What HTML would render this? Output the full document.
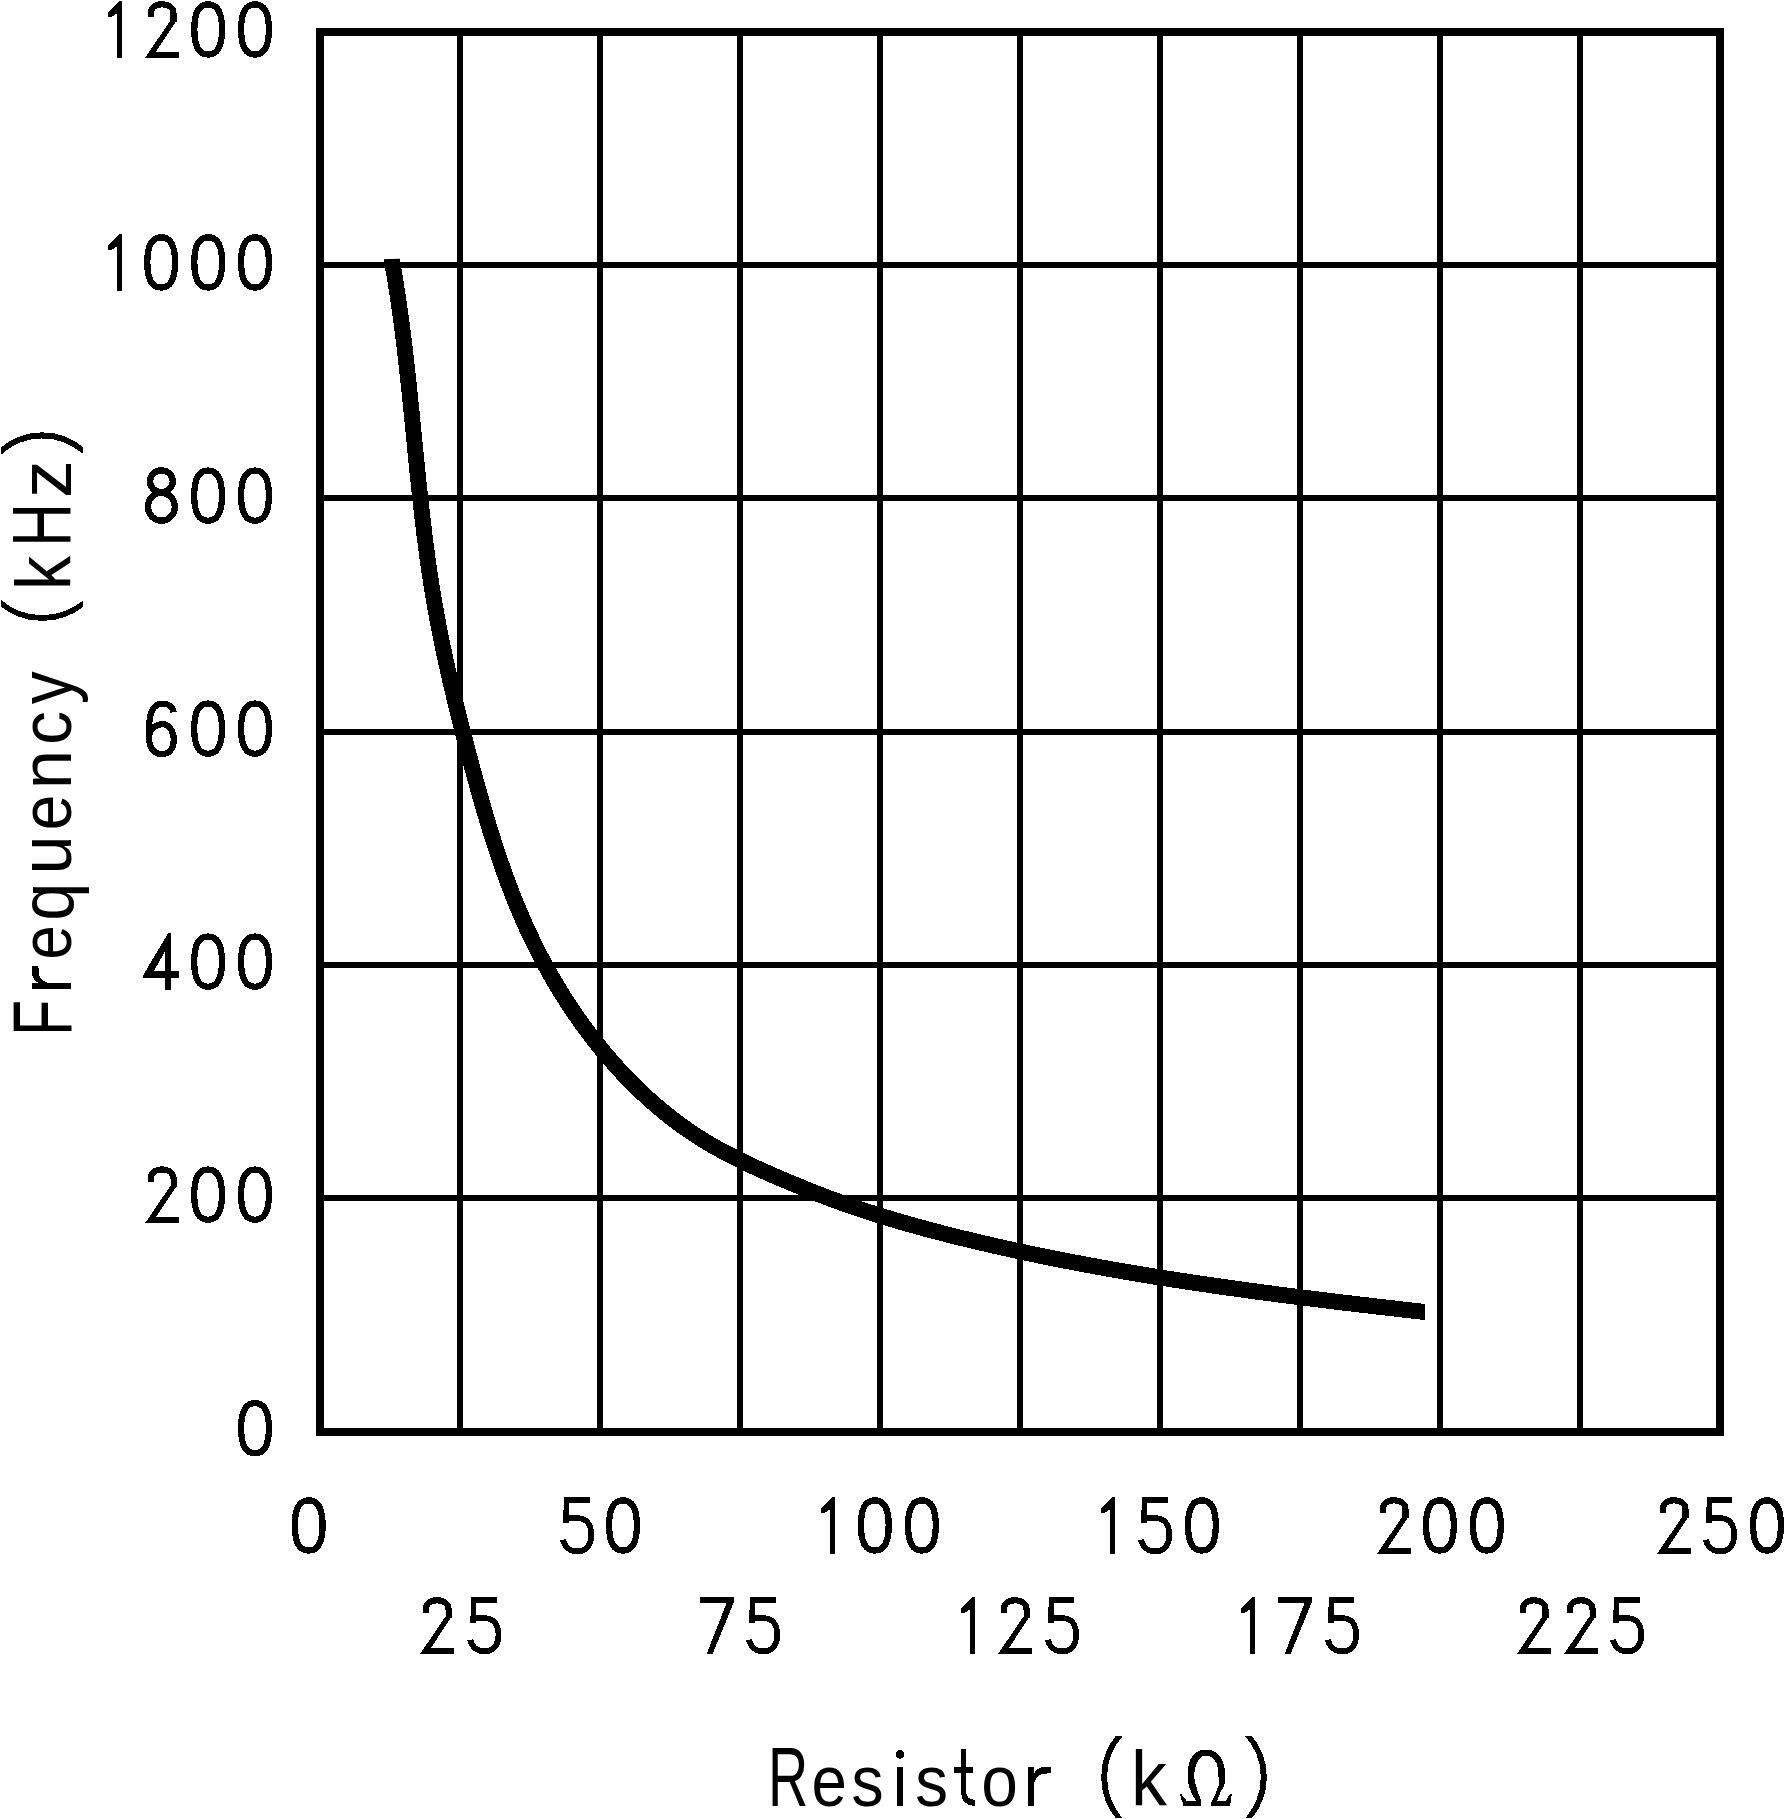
<!DOCTYPE html>
<html><head><meta charset="utf-8"><title>Frequency vs Resistor</title>
<style>
html,body{margin:0;padding:0;background:#fff;width:1785px;height:1819px;overflow:hidden}
svg{display:block}
text{font-family:"Liberation Sans",sans-serif;font-size:100px;fill:#000}
</style></head><body>
<svg width="1785" height="1819" viewBox="0 0 1785 1819">
<rect x="0" y="0" width="1785" height="1819" fill="#fff"/>
<g fill="#000" shape-rendering="crispEdges">
<rect x="316" y="28" width="1408" height="8"/>
<rect x="316" y="1428" width="1408" height="8"/>
<rect x="316" y="28" width="8" height="1408"/>
<rect x="1716" y="28" width="8" height="1408"/>
<rect x="457" y="36" width="6" height="1392"/>
<rect x="597" y="36" width="6" height="1392"/>
<rect x="737" y="36" width="6" height="1392"/>
<rect x="877" y="36" width="6" height="1392"/>
<rect x="1017" y="36" width="6" height="1392"/>
<rect x="1157" y="36" width="6" height="1392"/>
<rect x="1297" y="36" width="6" height="1392"/>
<rect x="1437" y="36" width="6" height="1392"/>
<rect x="1577" y="36" width="6" height="1392"/>
<rect x="324" y="262" width="1392" height="6"/>
<rect x="324" y="495" width="1392" height="6"/>
<rect x="324" y="729" width="1392" height="6"/>
<rect x="324" y="962" width="1392" height="6"/>
<rect x="324" y="1195" width="1392" height="6"/>
</g>
<clipPath id="cc"><polygon points="300,261.2 410,258.6 1425,258.6 1425,1500 300,1500"/></clipPath>
<path d="M390.69 253.98 L391.76 259.89 L392.46 263.82 L393.15 267.75 L393.83 271.69 L394.50 275.63 L395.15 279.57 L395.78 283.52 L396.41 287.47 L397.02 291.42 L397.63 295.37 L398.22 299.32 L398.80 303.28 L399.37 307.24 L399.92 311.20 L400.47 315.17 L401.01 319.13 L401.54 323.10 L402.06 327.07 L402.57 331.04 L403.07 335.01 L403.56 338.99 L404.05 342.96 L404.53 346.94 L405.00 350.92 L405.46 354.90 L405.92 358.88 L406.37 362.86 L406.81 366.85 L407.25 370.83 L407.69 374.82 L408.12 378.81 L408.54 382.79 L408.96 386.78 L409.38 390.77 L409.79 394.76 L410.20 398.76 L410.60 402.75 L411.01 406.74 L411.41 410.73 L411.81 414.73 L412.20 418.72 L412.60 422.72 L412.99 426.71 L413.39 430.71 L413.78 434.70 L414.17 438.70 L414.57 442.69 L414.96 446.69 L415.36 450.68 L415.75 454.68 L416.15 458.67 L416.55 462.67 L416.95 466.66 L417.35 470.65 L417.76 474.65 L418.17 478.64 L418.59 482.63 L419.00 486.62 L419.42 490.61 L419.85 494.60 L420.28 498.59 L420.72 502.58 L421.16 506.56 L421.61 510.55 L422.06 514.53 L422.52 518.52 L422.99 522.50 L423.46 526.48 L423.94 530.46 L424.43 534.44 L424.93 538.41 L425.43 542.39 L425.95 546.36 L426.47 550.33 L427.00 554.30 L427.54 558.27 L428.09 562.23 L428.66 566.20 L429.23 570.16 L429.81 574.12 L430.41 578.08 L431.01 582.03 L431.63 585.99 L432.26 589.94 L432.91 593.88 L433.56 597.83 L434.23 601.77 L434.92 605.71 L435.61 609.65 L436.32 613.59 L437.05 617.52 L437.78 621.45 L438.53 625.38 L439.29 629.31 L440.06 633.23 L440.84 637.15 L441.63 641.07 L442.44 644.99 L443.25 648.90 L444.08 652.82 L444.91 656.73 L445.76 660.64 L446.62 664.55 L447.49 668.45 L448.36 672.36 L449.25 676.26 L450.14 680.16 L451.05 684.06 L451.96 687.96 L452.88 691.86 L453.81 695.75 L454.75 699.64 L455.69 703.54 L456.65 707.43 L457.61 711.32 L458.58 715.20 L459.55 719.09 L460.53 722.98 L461.52 726.86 L462.51 730.75 L463.51 734.63 L464.52 738.51 L465.53 742.39 L466.55 746.27 L467.57 750.15 L468.60 754.03 L469.63 757.91 L470.67 761.78 L471.71 765.66 L472.76 769.54 L473.81 773.41 L474.87 777.28 L475.93 781.16 L477.00 785.03 L478.07 788.90 L479.16 792.76 L480.25 796.63 L481.35 800.49 L482.46 804.34 L483.58 808.20 L484.71 812.05 L485.84 815.90 L486.99 819.75 L488.15 823.59 L489.32 827.42 L490.51 831.26 L491.70 835.08 L492.91 838.91 L494.13 842.73 L495.37 846.54 L496.62 850.35 L497.88 854.15 L499.16 857.94 L500.46 861.73 L501.77 865.52 L503.10 869.29 L504.44 873.06 L505.80 876.83 L507.18 880.58 L508.58 884.33 L510.00 888.07 L511.43 891.80 L512.89 895.53 L514.36 899.24 L515.86 902.95 L517.37 906.65 L518.91 910.34 L520.47 914.02 L522.05 917.69 L523.66 921.35 L525.29 925.00 L526.94 928.65 L528.61 932.28 L530.31 935.90 L532.04 939.51 L533.79 943.10 L535.56 946.69 L537.36 950.27 L539.18 953.83 L541.03 957.38 L542.90 960.92 L544.79 964.45 L546.71 967.96 L548.66 971.46 L550.63 974.95 L552.62 978.42 L554.64 981.88 L556.68 985.32 L558.75 988.75 L560.84 992.17 L562.96 995.57 L565.10 998.95 L567.27 1002.32 L569.46 1005.67 L571.68 1009.01 L573.92 1012.33 L576.19 1015.63 L578.48 1018.92 L580.79 1022.19 L583.14 1025.44 L585.50 1028.68 L587.89 1031.89 L590.31 1035.09 L592.75 1038.27 L595.22 1041.43 L597.71 1044.57 L600.23 1047.69 L602.78 1050.80 L605.34 1053.88 L607.94 1056.94 L610.56 1059.98 L613.20 1063.00 L615.87 1066.00 L618.56 1068.98 L621.28 1071.93 L624.03 1074.85 L626.80 1077.76 L629.60 1080.64 L632.42 1083.49 L635.26 1086.31 L638.13 1089.11 L641.03 1091.88 L643.95 1094.63 L646.89 1097.34 L649.87 1100.03 L652.86 1102.69 L655.88 1105.31 L658.93 1107.91 L662.00 1110.47 L665.09 1113.00 L668.21 1115.50 L671.36 1117.97 L674.53 1120.40 L677.72 1122.80 L680.94 1125.16 L684.19 1127.49 L687.46 1129.78 L690.75 1132.04 L694.07 1134.25 L697.41 1136.43 L700.78 1138.57 L704.17 1140.68 L707.59 1142.74 L711.03 1144.77 L714.49 1146.76 L717.98 1148.72 L721.48 1150.64 L725.00 1152.53 L728.54 1154.40 L732.10 1156.23 L735.67 1158.04 L739.26 1159.82 L742.87 1161.57 L746.48 1163.31 L750.11 1165.02 L753.75 1166.71 L757.40 1168.38 L761.06 1170.04 L764.73 1171.67 L768.41 1173.30 L772.09 1174.91 L775.78 1176.51 L779.47 1178.09 L783.17 1179.67 L786.87 1181.24 L790.57 1182.80 L794.28 1184.35 L797.99 1185.88 L801.70 1187.41 L805.42 1188.92 L809.14 1190.42 L812.87 1191.90 L816.60 1193.38 L820.34 1194.83 L824.08 1196.27 L827.83 1197.70 L831.58 1199.11 L835.34 1200.50 L839.10 1201.87 L842.87 1203.23 L846.65 1204.57 L850.43 1205.89 L854.21 1207.20 L858.00 1208.48 L861.80 1209.76 L865.60 1211.01 L869.40 1212.25 L873.21 1213.47 L877.02 1214.68 L880.84 1215.88 L884.67 1217.06 L888.49 1218.22 L892.32 1219.37 L896.16 1220.51 L900.00 1221.64 L903.84 1222.75 L907.69 1223.85 L911.54 1224.94 L915.39 1226.01 L919.25 1227.07 L923.11 1228.13 L926.97 1229.17 L930.84 1230.20 L934.71 1231.22 L938.58 1232.23 L942.45 1233.23 L946.33 1234.22 L950.21 1235.20 L954.09 1236.18 L957.98 1237.14 L961.86 1238.10 L965.75 1239.05 L969.64 1239.99 L973.54 1240.93 L977.43 1241.85 L981.33 1242.77 L985.22 1243.68 L989.12 1244.58 L993.03 1245.48 L996.93 1246.37 L1000.84 1247.25 L1004.74 1248.12 L1008.65 1248.99 L1012.56 1249.85 L1016.48 1250.70 L1020.39 1251.55 L1024.31 1252.38 L1028.22 1253.22 L1032.14 1254.04 L1036.07 1254.86 L1039.99 1255.67 L1043.91 1256.47 L1047.84 1257.27 L1051.77 1258.06 L1055.69 1258.85 L1059.62 1259.63 L1063.56 1260.40 L1067.49 1261.16 L1071.42 1261.92 L1075.36 1262.68 L1079.30 1263.42 L1083.24 1264.17 L1087.18 1264.90 L1091.12 1265.63 L1095.06 1266.35 L1099.00 1267.07 L1102.95 1267.78 L1106.89 1268.49 L1110.84 1269.19 L1114.79 1269.88 L1118.74 1270.57 L1122.69 1271.26 L1126.64 1271.94 L1130.60 1272.61 L1134.55 1273.28 L1138.51 1273.94 L1142.46 1274.60 L1146.42 1275.25 L1150.38 1275.90 L1154.34 1276.54 L1158.29 1277.18 L1162.26 1277.81 L1166.22 1278.44 L1170.18 1279.06 L1174.14 1279.68 L1178.11 1280.30 L1182.07 1280.91 L1186.04 1281.51 L1190.00 1282.11 L1193.97 1282.71 L1197.94 1283.30 L1201.91 1283.89 L1205.87 1284.47 L1209.84 1285.05 L1213.81 1285.63 L1217.78 1286.20 L1221.76 1286.77 L1225.73 1287.33 L1229.70 1287.89 L1233.67 1288.45 L1237.64 1289.00 L1241.62 1289.55 L1245.59 1290.09 L1249.57 1290.64 L1253.54 1291.17 L1257.51 1291.71 L1261.49 1292.24 L1265.46 1292.77 L1269.44 1293.30 L1273.42 1293.82 L1277.39 1294.34 L1281.37 1294.85 L1285.34 1295.37 L1289.32 1295.88 L1293.30 1296.39 L1297.27 1296.89 L1301.25 1297.39 L1305.23 1297.89 L1309.21 1298.39 L1313.18 1298.88 L1317.16 1299.38 L1321.14 1299.87 L1325.11 1300.35 L1329.09 1300.84 L1333.07 1301.32 L1337.04 1301.80 L1341.02 1302.28 L1344.99 1302.76 L1348.97 1303.23 L1352.95 1303.70 L1356.92 1304.17 L1360.90 1304.64 L1364.87 1305.11 L1368.84 1305.58 L1372.82 1306.04 L1376.79 1306.50 L1380.77 1306.97 L1384.74 1307.42 L1388.71 1307.88 L1392.68 1308.34 L1396.65 1308.80 L1400.63 1309.25 L1404.60 1309.70 L1408.57 1310.16 L1412.53 1310.61 L1416.50 1311.06 L1420.47 1311.51 L1424.44 1311.96 L1430.40 1312.63" fill="none" stroke="#000" stroke-width="16" stroke-linecap="butt" stroke-linejoin="round" clip-path="url(#cc)" shape-rendering="crispEdges"/>
<g fill="#000" shape-rendering="crispEdges">
<polygon points="119.90,1.00 121.90,1.00 121.90,58.00 116.90,58.00 116.90,13.60 111.60,17.00 107.90,17.00 107.90,12.00 109.80,11.10"/>
<path transform="translate(144.90 1.00)" d="M5.9 16.2 L5.9 11.8 C5.9 6.5 10.6 3.3 17 3.3 C23.8 3.3 28.6 7 28.6 12.6 C28.6 15.6 28.7 17.6 28.7 21" fill="none" stroke="#000" stroke-width="6.20"/><path transform="translate(144.90 1.00)" d="M25.6 19.4 L31.8 19.4 L11.1 50.7 L34 50.7 L34 57 L0 57 Z" fill="#000" fill-rule="nonzero"/>
<path transform="translate(191.20 1.00)" d="M17.00 3.35 C25.62 3.35 30.90 10.38 30.90 28.45 C30.90 46.52 25.62 53.55 17.00 53.55 C8.38 53.55 3.10 46.52 3.10 28.45 C3.10 10.38 8.38 3.35 17.00 3.35 Z" fill="none" stroke="#000" stroke-width="6.30"/>
<path transform="translate(238.00 1.00)" d="M17.00 3.35 C25.62 3.35 30.90 10.38 30.90 28.45 C30.90 46.52 25.62 53.55 17.00 53.55 C8.38 53.55 3.10 46.52 3.10 28.45 C3.10 10.38 8.38 3.35 17.00 3.35 Z" fill="none" stroke="#000" stroke-width="6.30"/>
<polygon points="119.90,234.00 121.90,234.00 121.90,291.00 116.90,291.00 116.90,246.60 111.60,250.00 107.90,250.00 107.90,245.00 109.80,244.10"/>
<path transform="translate(144.20 234.00)" d="M17.00 3.35 C25.62 3.35 30.90 10.38 30.90 28.45 C30.90 46.52 25.62 53.55 17.00 53.55 C8.38 53.55 3.10 46.52 3.10 28.45 C3.10 10.38 8.38 3.35 17.00 3.35 Z" fill="none" stroke="#000" stroke-width="6.30"/>
<path transform="translate(191.20 234.00)" d="M17.00 3.35 C25.62 3.35 30.90 10.38 30.90 28.45 C30.90 46.52 25.62 53.55 17.00 53.55 C8.38 53.55 3.10 46.52 3.10 28.45 C3.10 10.38 8.38 3.35 17.00 3.35 Z" fill="none" stroke="#000" stroke-width="6.30"/>
<path transform="translate(238.00 234.00)" d="M17.00 3.35 C25.62 3.35 30.90 10.38 30.90 28.45 C30.90 46.52 25.62 53.55 17.00 53.55 C8.38 53.55 3.10 46.52 3.10 28.45 C3.10 10.38 8.38 3.35 17.00 3.35 Z" fill="none" stroke="#000" stroke-width="6.30"/>
<g transform="translate(144.80 467.20)" fill="none" stroke="#000" stroke-width="6.4"><ellipse cx="16.6" cy="14.1" rx="11.4" ry="10.9"/><ellipse cx="16.6" cy="39.5" rx="13.4" ry="14.0"/></g>
<path transform="translate(191.10 467.20)" d="M17.00 3.35 C25.62 3.35 30.90 10.38 30.90 28.45 C30.90 46.52 25.62 53.55 17.00 53.55 C8.38 53.55 3.10 46.52 3.10 28.45 C3.10 10.38 8.38 3.35 17.00 3.35 Z" fill="none" stroke="#000" stroke-width="6.30"/>
<path transform="translate(238.00 467.20)" d="M17.00 3.35 C25.62 3.35 30.90 10.38 30.90 28.45 C30.90 46.52 25.62 53.55 17.00 53.55 C8.38 53.55 3.10 46.52 3.10 28.45 C3.10 10.38 8.38 3.35 17.00 3.35 Z" fill="none" stroke="#000" stroke-width="6.30"/>
<path transform="translate(146.00 700.20)" d="M27.6 12 C26.6 6.6 22.4 3.4 16.6 3.4 C8.2 3.4 3.2 11 3.2 27 L3.2 38.5 C3.2 48.4 8.6 53.9 16 53.9 C23.6 53.9 27.8 48 27.8 39.6 C27.8 30.6 23 24 16.2 24 C9.2 24 4.2 29 3.2 34.8" fill="none" stroke="#000" stroke-width="6.20"/>
<path transform="translate(191.10 700.20)" d="M17.00 3.35 C25.62 3.35 30.90 10.38 30.90 28.45 C30.90 46.52 25.62 53.55 17.00 53.55 C8.38 53.55 3.10 46.52 3.10 28.45 C3.10 10.38 8.38 3.35 17.00 3.35 Z" fill="none" stroke="#000" stroke-width="6.30"/>
<path transform="translate(238.00 700.20)" d="M17.00 3.35 C25.62 3.35 30.90 10.38 30.90 28.45 C30.90 46.52 25.62 53.55 17.00 53.55 C8.38 53.55 3.10 46.52 3.10 28.45 C3.10 10.38 8.38 3.35 17.00 3.35 Z" fill="none" stroke="#000" stroke-width="6.30"/>
<path transform="translate(143.00 933.20)" d="M25.1 0 L28 0 L28 37.9 L36 37.9 L36 44.8 L28 44.8 L28 56.8 L22 56.8 L22 44.8 L0 44.8 L0 42.2 Z M22 18.4 L22 37.9 L10.8 37.9 Z" fill="#000" fill-rule="evenodd"/>
<path transform="translate(191.10 933.20)" d="M17.00 3.35 C25.62 3.35 30.90 10.38 30.90 28.45 C30.90 46.52 25.62 53.55 17.00 53.55 C8.38 53.55 3.10 46.52 3.10 28.45 C3.10 10.38 8.38 3.35 17.00 3.35 Z" fill="none" stroke="#000" stroke-width="6.30"/>
<path transform="translate(238.00 933.20)" d="M17.00 3.35 C25.62 3.35 30.90 10.38 30.90 28.45 C30.90 46.52 25.62 53.55 17.00 53.55 C8.38 53.55 3.10 46.52 3.10 28.45 C3.10 10.38 8.38 3.35 17.00 3.35 Z" fill="none" stroke="#000" stroke-width="6.30"/>
<path transform="translate(145.00 1166.20)" d="M5.9 16.2 L5.9 11.8 C5.9 6.5 10.6 3.3 17 3.3 C23.8 3.3 28.6 7 28.6 12.6 C28.6 15.6 28.7 17.6 28.7 21" fill="none" stroke="#000" stroke-width="6.20"/><path transform="translate(145.00 1166.20)" d="M25.6 19.4 L31.8 19.4 L11.1 50.7 L34 50.7 L34 57 L0 57 Z" fill="#000" fill-rule="nonzero"/>
<path transform="translate(191.10 1166.20)" d="M17.00 3.35 C25.62 3.35 30.90 10.38 30.90 28.45 C30.90 46.52 25.62 53.55 17.00 53.55 C8.38 53.55 3.10 46.52 3.10 28.45 C3.10 10.38 8.38 3.35 17.00 3.35 Z" fill="none" stroke="#000" stroke-width="6.30"/>
<path transform="translate(238.00 1166.20)" d="M17.00 3.35 C25.62 3.35 30.90 10.38 30.90 28.45 C30.90 46.52 25.62 53.55 17.00 53.55 C8.38 53.55 3.10 46.52 3.10 28.45 C3.10 10.38 8.38 3.35 17.00 3.35 Z" fill="none" stroke="#000" stroke-width="6.30"/>
<path transform="translate(238.00 1399.80)" d="M17.00 3.35 C25.62 3.35 30.90 10.38 30.90 28.45 C30.90 46.52 25.62 53.55 17.00 53.55 C8.38 53.55 3.10 46.52 3.10 28.45 C3.10 10.38 8.38 3.35 17.00 3.35 Z" fill="none" stroke="#000" stroke-width="6.30"/>
<path transform="translate(291.70 1497.00)" d="M17.00 3.35 C25.62 3.35 30.90 10.38 30.90 28.45 C30.90 46.52 25.62 53.55 17.00 53.55 C8.38 53.55 3.10 46.52 3.10 28.45 C3.10 10.38 8.38 3.35 17.00 3.35 Z" fill="none" stroke="#000" stroke-width="6.30"/>
<path transform="translate(560.00 1497.00)" d="M3.9 0 L29.5 0 L29.5 6 L9 6 L9 25.5 L3.1 25.5 Z" fill="#000" fill-rule="nonzero"/><path transform="translate(560.00 1497.00)" d="M6.5 21.2 L17.5 21.2 C26.5 21.2 31.3 27.6 31.3 37.8 C31.3 48.2 25.8 54.4 17.8 54.4 C9.8 54.4 4.5 49.8 3 42.8" fill="none" stroke="#000" stroke-width="5.80"/>
<path transform="translate(606.00 1497.00)" d="M17.00 3.35 C25.62 3.35 30.90 10.38 30.90 28.45 C30.90 46.52 25.62 53.55 17.00 53.55 C8.38 53.55 3.10 46.52 3.10 28.45 C3.10 10.38 8.38 3.35 17.00 3.35 Z" fill="none" stroke="#000" stroke-width="6.30"/>
<polygon points="832.80,1497.00 834.80,1497.00 834.80,1554.00 829.80,1554.00 829.80,1509.60 824.50,1513.00 820.80,1513.00 820.80,1508.00 822.70,1507.10"/>
<path transform="translate(857.80 1497.00)" d="M17.00 3.35 C25.62 3.35 30.90 10.38 30.90 28.45 C30.90 46.52 25.62 53.55 17.00 53.55 C8.38 53.55 3.10 46.52 3.10 28.45 C3.10 10.38 8.38 3.35 17.00 3.35 Z" fill="none" stroke="#000" stroke-width="6.30"/>
<path transform="translate(904.90 1497.00)" d="M17.00 3.35 C25.62 3.35 30.90 10.38 30.90 28.45 C30.90 46.52 25.62 53.55 17.00 53.55 C8.38 53.55 3.10 46.52 3.10 28.45 C3.10 10.38 8.38 3.35 17.00 3.35 Z" fill="none" stroke="#000" stroke-width="6.30"/>
<polygon points="1112.80,1497.00 1114.80,1497.00 1114.80,1554.00 1109.80,1554.00 1109.80,1509.60 1104.50,1513.00 1100.80,1513.00 1100.80,1508.00 1102.70,1507.10"/>
<path transform="translate(1138.00 1497.00)" d="M3.9 0 L29.5 0 L29.5 6 L9 6 L9 25.5 L3.1 25.5 Z" fill="#000" fill-rule="nonzero"/><path transform="translate(1138.00 1497.00)" d="M6.5 21.2 L17.5 21.2 C26.5 21.2 31.3 27.6 31.3 37.8 C31.3 48.2 25.8 54.4 17.8 54.4 C9.8 54.4 4.5 49.8 3 42.8" fill="none" stroke="#000" stroke-width="5.80"/>
<path transform="translate(1184.90 1497.00)" d="M17.00 3.35 C25.62 3.35 30.90 10.38 30.90 28.45 C30.90 46.52 25.62 53.55 17.00 53.55 C8.38 53.55 3.10 46.52 3.10 28.45 C3.10 10.38 8.38 3.35 17.00 3.35 Z" fill="none" stroke="#000" stroke-width="6.30"/>
<path transform="translate(1376.90 1497.00)" d="M5.9 16.2 L5.9 11.8 C5.9 6.5 10.6 3.3 17 3.3 C23.8 3.3 28.6 7 28.6 12.6 C28.6 15.6 28.7 17.6 28.7 21" fill="none" stroke="#000" stroke-width="6.20"/><path transform="translate(1376.90 1497.00)" d="M25.6 19.4 L31.8 19.4 L11.1 50.7 L34 50.7 L34 57 L0 57 Z" fill="#000" fill-rule="nonzero"/>
<path transform="translate(1422.90 1497.00)" d="M17.00 3.35 C25.62 3.35 30.90 10.38 30.90 28.45 C30.90 46.52 25.62 53.55 17.00 53.55 C8.38 53.55 3.10 46.52 3.10 28.45 C3.10 10.38 8.38 3.35 17.00 3.35 Z" fill="none" stroke="#000" stroke-width="6.30"/>
<path transform="translate(1469.90 1497.00)" d="M17.00 3.35 C25.62 3.35 30.90 10.38 30.90 28.45 C30.90 46.52 25.62 53.55 17.00 53.55 C8.38 53.55 3.10 46.52 3.10 28.45 C3.10 10.38 8.38 3.35 17.00 3.35 Z" fill="none" stroke="#000" stroke-width="6.30"/>
<path transform="translate(1656.90 1497.00)" d="M5.9 16.2 L5.9 11.8 C5.9 6.5 10.6 3.3 17 3.3 C23.8 3.3 28.6 7 28.6 12.6 C28.6 15.6 28.7 17.6 28.7 21" fill="none" stroke="#000" stroke-width="6.20"/><path transform="translate(1656.90 1497.00)" d="M25.6 19.4 L31.8 19.4 L11.1 50.7 L34 50.7 L34 57 L0 57 Z" fill="#000" fill-rule="nonzero"/>
<path transform="translate(1702.90 1497.00)" d="M3.9 0 L29.5 0 L29.5 6 L9 6 L9 25.5 L3.1 25.5 Z" fill="#000" fill-rule="nonzero"/><path transform="translate(1702.90 1497.00)" d="M6.5 21.2 L17.5 21.2 C26.5 21.2 31.3 27.6 31.3 37.8 C31.3 48.2 25.8 54.4 17.8 54.4 C9.8 54.4 4.5 49.8 3 42.8" fill="none" stroke="#000" stroke-width="5.80"/>
<path transform="translate(1750.00 1497.00)" d="M17.00 3.35 C25.62 3.35 30.90 10.38 30.90 28.45 C30.90 46.52 25.62 53.55 17.00 53.55 C8.38 53.55 3.10 46.52 3.10 28.45 C3.10 10.38 8.38 3.35 17.00 3.35 Z" fill="none" stroke="#000" stroke-width="6.30"/>
<path transform="translate(420.00 1597.00)" d="M5.9 16.2 L5.9 11.8 C5.9 6.5 10.6 3.3 17 3.3 C23.8 3.3 28.6 7 28.6 12.6 C28.6 15.6 28.7 17.6 28.7 21" fill="none" stroke="#000" stroke-width="6.20"/><path transform="translate(420.00 1597.00)" d="M25.6 19.4 L31.8 19.4 L11.1 50.7 L34 50.7 L34 57 L0 57 Z" fill="#000" fill-rule="nonzero"/>
<path transform="translate(467.20 1597.00)" d="M3.9 0 L29.5 0 L29.5 6 L9 6 L9 25.5 L3.1 25.5 Z" fill="#000" fill-rule="nonzero"/><path transform="translate(467.20 1597.00)" d="M6.5 21.2 L17.5 21.2 C26.5 21.2 31.3 27.6 31.3 37.8 C31.3 48.2 25.8 54.4 17.8 54.4 C9.8 54.4 4.5 49.8 3 42.8" fill="none" stroke="#000" stroke-width="5.80"/>
<path transform="translate(700.00 1597.00)" d="M0 0 L34 0 L34 4.8 L12.6 57 L6.6 57 L26.6 6 L0 6 Z" fill="#000" fill-rule="nonzero"/>
<path transform="translate(746.00 1597.00)" d="M3.9 0 L29.5 0 L29.5 6 L9 6 L9 25.5 L3.1 25.5 Z" fill="#000" fill-rule="nonzero"/><path transform="translate(746.00 1597.00)" d="M6.5 21.2 L17.5 21.2 C26.5 21.2 31.3 27.6 31.3 37.8 C31.3 48.2 25.8 54.4 17.8 54.4 C9.8 54.4 4.5 49.8 3 42.8" fill="none" stroke="#000" stroke-width="5.80"/>
<polygon points="972.80,1597.00 974.80,1597.00 974.80,1654.00 969.80,1654.00 969.80,1609.60 964.50,1613.00 960.80,1613.00 960.80,1608.00 962.70,1607.10"/>
<path transform="translate(998.00 1597.00)" d="M5.9 16.2 L5.9 11.8 C5.9 6.5 10.6 3.3 17 3.3 C23.8 3.3 28.6 7 28.6 12.6 C28.6 15.6 28.7 17.6 28.7 21" fill="none" stroke="#000" stroke-width="6.20"/><path transform="translate(998.00 1597.00)" d="M25.6 19.4 L31.8 19.4 L11.1 50.7 L34 50.7 L34 57 L0 57 Z" fill="#000" fill-rule="nonzero"/>
<path transform="translate(1044.90 1597.00)" d="M3.9 0 L29.5 0 L29.5 6 L9 6 L9 25.5 L3.1 25.5 Z" fill="#000" fill-rule="nonzero"/><path transform="translate(1044.90 1597.00)" d="M6.5 21.2 L17.5 21.2 C26.5 21.2 31.3 27.6 31.3 37.8 C31.3 48.2 25.8 54.4 17.8 54.4 C9.8 54.4 4.5 49.8 3 42.8" fill="none" stroke="#000" stroke-width="5.80"/>
<polygon points="1252.80,1597.00 1254.80,1597.00 1254.80,1654.00 1249.80,1654.00 1249.80,1609.60 1244.50,1613.00 1240.80,1613.00 1240.80,1608.00 1242.70,1607.10"/>
<path transform="translate(1278.00 1597.00)" d="M0 0 L34 0 L34 4.8 L12.6 57 L6.6 57 L26.6 6 L0 6 Z" fill="#000" fill-rule="nonzero"/>
<path transform="translate(1324.90 1597.00)" d="M3.9 0 L29.5 0 L29.5 6 L9 6 L9 25.5 L3.1 25.5 Z" fill="#000" fill-rule="nonzero"/><path transform="translate(1324.90 1597.00)" d="M6.5 21.2 L17.5 21.2 C26.5 21.2 31.3 27.6 31.3 37.8 C31.3 48.2 25.8 54.4 17.8 54.4 C9.8 54.4 4.5 49.8 3 42.8" fill="none" stroke="#000" stroke-width="5.80"/>
<path transform="translate(1516.90 1597.00)" d="M5.9 16.2 L5.9 11.8 C5.9 6.5 10.6 3.3 17 3.3 C23.8 3.3 28.6 7 28.6 12.6 C28.6 15.6 28.7 17.6 28.7 21" fill="none" stroke="#000" stroke-width="6.20"/><path transform="translate(1516.90 1597.00)" d="M25.6 19.4 L31.8 19.4 L11.1 50.7 L34 50.7 L34 57 L0 57 Z" fill="#000" fill-rule="nonzero"/>
<path transform="translate(1564.00 1597.00)" d="M5.9 16.2 L5.9 11.8 C5.9 6.5 10.6 3.3 17 3.3 C23.8 3.3 28.6 7 28.6 12.6 C28.6 15.6 28.7 17.6 28.7 21" fill="none" stroke="#000" stroke-width="6.20"/><path transform="translate(1564.00 1597.00)" d="M25.6 19.4 L31.8 19.4 L11.1 50.7 L34 50.7 L34 57 L0 57 Z" fill="#000" fill-rule="nonzero"/>
<path transform="translate(1610.00 1597.00)" d="M3.9 0 L29.5 0 L29.5 6 L9 6 L9 25.5 L3.1 25.5 Z" fill="#000" fill-rule="nonzero"/><path transform="translate(1610.00 1597.00)" d="M6.5 21.2 L17.5 21.2 C26.5 21.2 31.3 27.6 31.3 37.8 C31.3 48.2 25.8 54.4 17.8 54.4 C9.8 54.4 4.5 49.8 3 42.8" fill="none" stroke="#000" stroke-width="5.80"/>
<text transform="matrix(0.55818 0 0 0.82703 768.023 1805.800)">R</text>
<text transform="matrix(0.63617 0 0 0.71715 811.428 1805.683)">e</text>
<text transform="matrix(0.64220 0 0 0.71846 851.502 1805.682)">s</text>
<text transform="matrix(0.65596 0 0 0.71846 915.263 1805.682)">s</text>
<text transform="matrix(0.65890 0 0 0.71715 981.233 1805.683)">o</text>
<text transform="matrix(0.71889 0 0 0.78621 1131.083 1805.800)">k</text>
<path transform="translate(1028.10 1767.10) scale(0.98696 0.99742)" d="M0 0 L6 0 L6 6.4 C7.6 3.4 10.2 0.6 14.4 0 L23 0 L23 6.3 L15 6.6 C11.2 7.4 8 10.4 6 15.6 L6 38.7 L0 38.7 Z"/>
<g transform="translate(1100.90 1735.90)"><path transform="scale(1.00000 1.00000)" d="M15 0 C8 8.5 0.3 22 0.3 40.85 C0.3 58 6 71 14.4 81.7 L20.9 81.7 C12 70 6.2 58 6.2 40.85 C6.2 24 12.5 10.5 22 0 Z"/></g>
<g transform="translate(1244.70 1735.90)"><path transform="translate(22.400 0) scale(-1.01818 1.00000)" d="M15 0 C8 8.5 0.3 22 0.3 40.85 C0.3 58 6 71 14.4 81.7 L20.9 81.7 C12 70 6.2 58 6.2 40.85 C6.2 24 12.5 10.5 22 0 Z"/></g>
<path d="M961 1748.9 L966 1748.9 L966 1766.9 L972.9 1766.9 L972.9 1772.9 L966 1772.9 L966 1791.5 C966.3 1796.5 969 1799.8 975 1799.8 L975 1805.9 C966 1805.9 961 1801 961 1792 L961 1772.9 L954 1772.9 L954 1766.9 L961 1766.9 Z"/>
<rect x="897.0" y="1767.1" width="6.2" height="38.7"/>
<circle cx="899.9" cy="1754.3" r="4.4"/>
<polygon points="1183.0,1805.6 1200.9,1805.6 1200.9,1800.4 1199.8,1797.1 1198.0,1792.3 1195.8,1785.1 1193.9,1776.0 1194.8,1769.8 1196.8,1763.2 1199.0,1759.6 1201.2,1757.0 1204.1,1755.7 1208.9,1755.7 1212.6,1758.2 1216.9,1763.2 1218.0,1770.5 1219.1,1784.7 1217.2,1789.1 1216.2,1792.3 1213.6,1797.4 1211.2,1802.2 1211.2,1805.6 1229.8,1805.6 1230.7,1801.8 1231.8,1794.0 1230.0,1794.0 1225.6,1801.1 1216.9,1801.1 1220.9,1791.2 1222.7,1788.7 1224.9,1783.6 1224.9,1770.5 1223.8,1764.3 1222.7,1761.4 1220.9,1757.4 1215.4,1752.1 1213.6,1751.0 1209.8,1749.9 1202.3,1749.9 1198.3,1751.0 1193.9,1754.1 1191.0,1758.3 1189.0,1763.2 1188.1,1769.0 1187.9,1774.1 1187.9,1781.4 1189.0,1786.5 1191.0,1791.6 1193.2,1796.0 1196.1,1801.1 1187.0,1801.1 1181.5,1794.5 1180.1,1794.0 1181.0,1798.5 1183.0,1803.3"/>
</g>
<g fill="#000" transform="rotate(-90)" shape-rendering="crispEdges">
<text transform="matrix(0.58896 0 0 0.82703 -1035.729 71.000)">F</text>
<text transform="matrix(0.61489 0 0 0.71898 -959.383 70.781)">e</text>
<text transform="matrix(0.68667 0 0 0.76408 -920.684 73.207)">q</text>
<text transform="matrix(0.70588 0 0 0.73234 -874.388 70.768)">u</text>
<text transform="matrix(0.63830 0 0 0.71898 -830.281 70.781)">e</text>
<text transform="matrix(0.70588 0 0 0.72491 -789.359 70.900)">n</text>
<text transform="matrix(0.67593 0 0 0.72080 -744.739 70.679)">c</text>
<text transform="matrix(0.65657 0 0 0.75136 -704.197 72.272)">y</text>
<text transform="matrix(0.68894 0 0 0.78483 -590.316 71.000)">k</text>
<text transform="matrix(0.60465 0 0 0.82703 -546.858 71.000)">H</text>
<text transform="matrix(0.75795 0 0 0.73674 -498.008 71.000)">z</text>
<path transform="translate(-989.10 32.10) scale(1.01739 1.00517)" d="M0 0 L6 0 L6 6.4 C7.6 3.4 10.2 0.6 14.4 0 L23 0 L23 6.3 L15 6.6 C11.2 7.4 8 10.4 6 15.6 L6 38.7 L0 38.7 Z"/>
<g transform="translate(-621.20 0.90)"><path transform="scale(0.97727 1.00367)" d="M15 0 C8 8.5 0.3 22 0.3 40.85 C0.3 58 6 71 14.4 81.7 L20.9 81.7 C12 70 6.2 58 6.2 40.85 C6.2 24 12.5 10.5 22 0 Z"/></g>
<g transform="translate(-454.90 0.90)"><path transform="translate(22.900 0) scale(-1.04091 1.00367)" d="M15 0 C8 8.5 0.3 22 0.3 40.85 C0.3 58 6 71 14.4 81.7 L20.9 81.7 C12 70 6.2 58 6.2 40.85 C6.2 24 12.5 10.5 22 0 Z"/></g>
</g>
</svg>
</body></html>
